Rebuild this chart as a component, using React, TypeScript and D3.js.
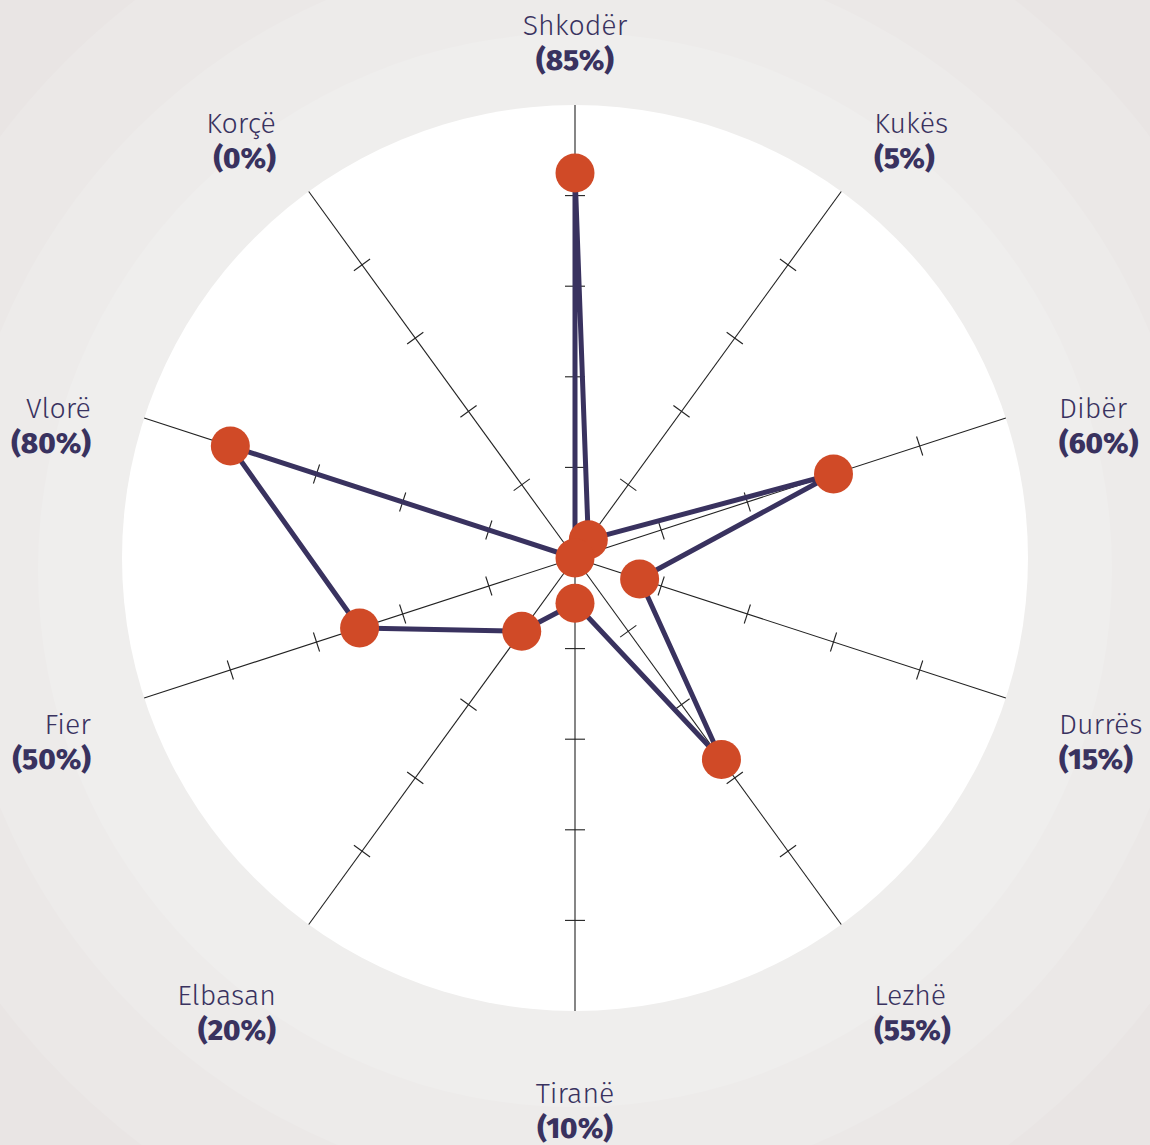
import React from 'react';
import * as d3 from 'd3';

// regions, clockwise from the top
const REGIONS = ['Shkodër', 'Kukës', 'Dibër', 'Durrës', 'Lezhë', 'Tiranë', 'Elbasan', 'Fier', 'Vlorë', 'Korçë'];
const SHARES = [85, 5, 60, 15, 55, 10, 20, 50, 80, 0];
const TICKS = [20, 40, 60, 80];

const W = 1150;
const H = 1145;
const cx = 575;
const cy = 558;
const R = 453;

const INK = '#39325f';
const DOT = '#d04a27';
const FONT = '"Fira Sans", "Open Sans", "Noto Sans", sans-serif';

export default function App() {
  const r = d3.scaleLinear().domain([0, 100]).range([0, R]);
  const angle = d3
    .scaleLinear()
    .domain([0, REGIONS.length])
    .range([0, 2 * Math.PI]);

  const line = d3
    .lineRadial<number>()
    .angle((_, i) => angle(i))
    .radius((d) => r(d))
    .curve(d3.curveLinearClosed);

  const pt = (i: number, v: number) => {
    const a = angle(i);
    return [cx + r(v) * Math.sin(a), cy - r(v) * Math.cos(a)];
  };

  return (
    <>
      <style>{`body{margin:0}`}</style>
      <svg width={W} height={H} style={{ display: 'block', fontFamily: FONT }}>
        {/* background rings */}
        <rect width={W} height={H} fill="#e9e5e4" />
        <circle cx={cx} cy={570} r={720} fill="#ebe8e7" />
        <circle cx={cx} cy={570} r={622} fill="#edebea" />
        <circle cx={cx} cy={570} r={537} fill="#efeeed" />
        <circle cx={cx} cy={cy} r={R} fill="#ffffff" />

        {/* axes + ticks */}
        {REGIONS.map((name, i) => {
          const a = angle(i);
          const [x2, y2] = pt(i, 100);
          return (
            <g key={name}>
              <line x1={cx} y1={cy} x2={x2} y2={y2} stroke="#222" strokeWidth={1.1} />
              {TICKS.map((t) => {
                const [tx, ty] = pt(i, t);
                const px = Math.cos(a) * 10;
                const py = Math.sin(a) * 10;
                return (
                  <line
                    key={t}
                    x1={tx - px}
                    y1={ty - py}
                    x2={tx + px}
                    y2={ty + py}
                    stroke="#222"
                    strokeWidth={1.1}
                  />
                );
              })}
            </g>
          );
        })}

        {/* series */}
        <path
          d={line(SHARES) || ''}
          transform={`translate(${cx},${cy})`}
          fill="none"
          stroke={INK}
          strokeWidth={5}
          strokeLinejoin="round"
        />
        {SHARES.map((v, i) => {
          const [x, y] = pt(i, v);
          return <circle key={i} cx={x} cy={y} r={19.5} fill={DOT} />;
        })}

        {/* labels */}
        {REGIONS.map((name, i) => {
          const a = angle(i);
          const s = Math.sin(a);
          const c = Math.cos(a);
          const anchor = Math.abs(s) < 0.1 ? 'middle' : s > 0 ? 'start' : 'end';
          const x = anchor === 'middle' ? cx : cx + 509 * s;
          let dy = 0;
          if (c > 0.2 && c < 0.5) dy = 14;
          if (Math.abs(c) > 0.5 && Math.abs(c) < 0.9) dy = -4 * Math.sign(c);
          const mid = 578 - 534 * c + dy;
          return (
            <g key={name} textAnchor={anchor} fill={INK}>
              <text x={x} y={mid - 9} fontSize={28.5} fontWeight={300}>
                {name}
              </text>
              <text x={x} y={mid + 26} fontSize={29.5} fontWeight={800}>
                ({SHARES[i]}%)
              </text>
            </g>
          );
        })}
      </svg>
    </>
  );
}
